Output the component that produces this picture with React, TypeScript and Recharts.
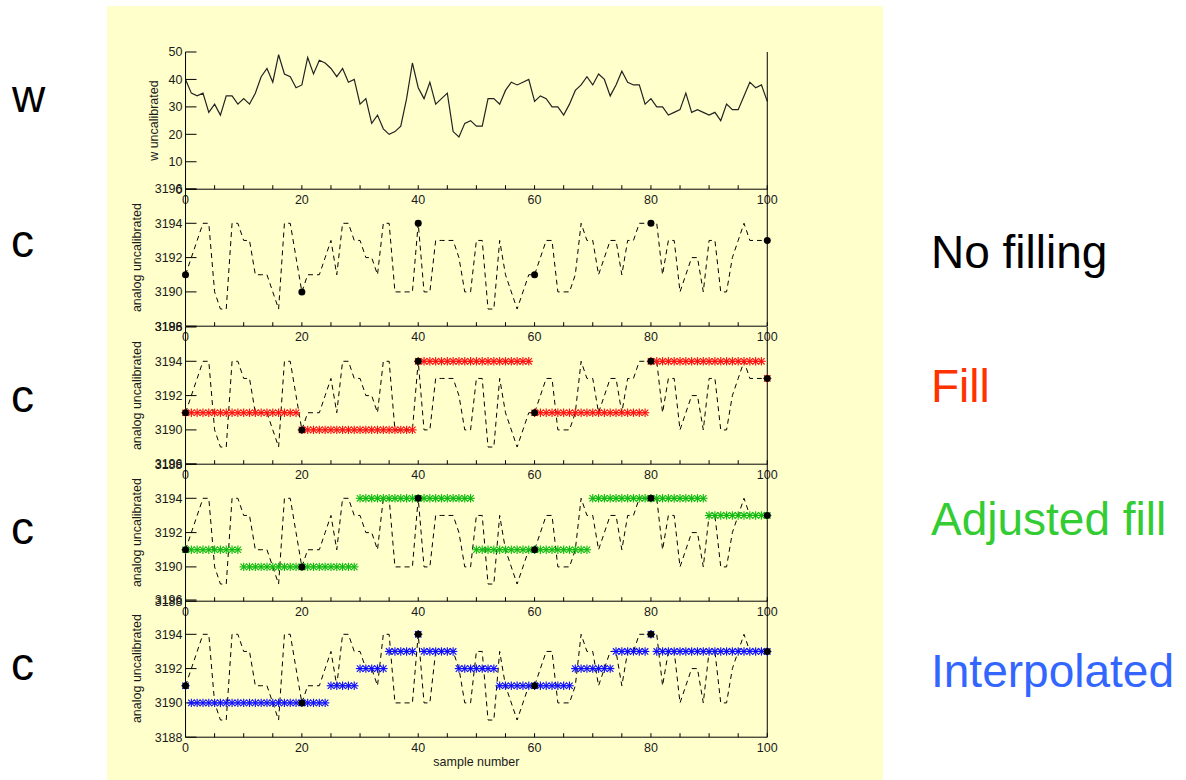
import React from 'react';
import { ComposedChart, Line, Scatter, XAxis, YAxis } from 'recharts';

// sample numbers along the x axis
const sampleNo = Array.from({ length: 101 }, (_, i) => i);

// w channel, raw counts
const wRaw = [
  40, 35, 34, 35, 28, 31, 27, 34, 34, 31,
  33, 31, 35, 41, 44, 39, 49, 42, 41, 37,
  38, 48, 42, 47, 46, 44, 41, 44, 39, 40,
  31, 33, 24, 27, 22, 20, 21, 23, 33, 46,
  37, 33, 39, 31, 33, 35, 21, 19, 24, 25,
  23, 23, 33, 33, 31, 36, 39, 38, 39, 40,
  32, 34, 33, 30, 30, 27, 31, 36, 38, 41,
  38, 42, 40, 34, 38, 43, 39, 38, 38, 31,
  33, 30, 30, 27, 28, 29, 35, 28, 29, 28,
  27, 28, 25, 31, 29, 29, 34, 39, 37, 38,
  32,
];

// c channel, analog counts
const cRaw = [
  3191, 3192, 3193, 3194, 3194, 3190, 3189, 3189, 3194, 3194,
  3193, 3193, 3191, 3191, 3191, 3190, 3189, 3194, 3194, 3192,
  3190, 3191, 3191, 3191, 3192, 3193, 3191, 3194, 3194, 3193,
  3193, 3192, 3192, 3191, 3194, 3194, 3190, 3190, 3190, 3190,
  3194, 3190, 3190, 3193, 3193, 3193, 3193, 3192, 3190, 3190,
  3193, 3193, 3189, 3189, 3193, 3191, 3190, 3189, 3190, 3191,
  3191, 3192, 3193, 3193, 3190, 3190, 3190, 3191, 3194, 3193,
  3193, 3191, 3192, 3193, 3193, 3191, 3193, 3193, 3194, 3194,
  3194, 3194, 3191, 3193, 3193, 3190, 3191, 3192, 3192, 3190,
  3193, 3193, 3190, 3190, 3192, 3193, 3194, 3193, 3193, 3193,
  3193,
];

// samples where c was actually read
const calIdx = [0, 20, 40, 60, 80, 100];
const calVal = [3191, 3190, 3194, 3191, 3194, 3193];

const fillVal = [
  3191, 3191, 3191, 3191, 3191, 3191, 3191, 3191, 3191, 3191,
  3191, 3191, 3191, 3191, 3191, 3191, 3191, 3191, 3191, 3191,
  3190, 3190, 3190, 3190, 3190, 3190, 3190, 3190, 3190, 3190,
  3190, 3190, 3190, 3190, 3190, 3190, 3190, 3190, 3190, 3190,
  3194, 3194, 3194, 3194, 3194, 3194, 3194, 3194, 3194, 3194,
  3194, 3194, 3194, 3194, 3194, 3194, 3194, 3194, 3194, 3194,
  3191, 3191, 3191, 3191, 3191, 3191, 3191, 3191, 3191, 3191,
  3191, 3191, 3191, 3191, 3191, 3191, 3191, 3191, 3191, 3191,
  3194, 3194, 3194, 3194, 3194, 3194, 3194, 3194, 3194, 3194,
  3194, 3194, 3194, 3194, 3194, 3194, 3194, 3194, 3194, 3194,
  3193,
];

const adjVal = [
  3191, 3191, 3191, 3191, 3191, 3191, 3191, 3191, 3191, 3191,
  3190, 3190, 3190, 3190, 3190, 3190, 3190, 3190, 3190, 3190,
  3190, 3190, 3190, 3190, 3190, 3190, 3190, 3190, 3190, 3190,
  3194, 3194, 3194, 3194, 3194, 3194, 3194, 3194, 3194, 3194,
  3194, 3194, 3194, 3194, 3194, 3194, 3194, 3194, 3194, 3194,
  3191, 3191, 3191, 3191, 3191, 3191, 3191, 3191, 3191, 3191,
  3191, 3191, 3191, 3191, 3191, 3191, 3191, 3191, 3191, 3191,
  3194, 3194, 3194, 3194, 3194, 3194, 3194, 3194, 3194, 3194,
  3194, 3194, 3194, 3194, 3194, 3194, 3194, 3194, 3194, 3194,
  3193, 3193, 3193, 3193, 3193, 3193, 3193, 3193, 3193, 3193,
  3193,
];

const interpVal = [
  3191, 3190, 3190, 3190, 3190, 3190, 3190, 3190, 3190, 3190,
  3190, 3190, 3190, 3190, 3190, 3190, 3190, 3190, 3190, 3190,
  3190, 3190, 3190, 3190, 3190, 3191, 3191, 3191, 3191, 3191,
  3192, 3192, 3192, 3192, 3192, 3193, 3193, 3193, 3193, 3193,
  3194, 3193, 3193, 3193, 3193, 3193, 3193, 3192, 3192, 3192,
  3192, 3192, 3192, 3192, 3191, 3191, 3191, 3191, 3191, 3191,
  3191, 3191, 3191, 3191, 3191, 3191, 3191, 3192, 3192, 3192,
  3192, 3192, 3192, 3192, 3193, 3193, 3193, 3193, 3193, 3193,
  3194, 3193, 3193, 3193, 3193, 3193, 3193, 3193, 3193, 3193,
  3193, 3193, 3193, 3193, 3193, 3193, 3193, 3193, 3193, 3193,
  3193,
];

const xTicks = [0, 5, 10, 15, 20, 25, 30, 35, 40, 45, 50, 55, 60, 65, 70, 75, 80, 85, 90, 95, 100];
const wTicks = [0, 10, 20, 30, 40, 50];
const cTicks = [3188, 3190, 3192, 3194, 3196];

const rows = sampleNo.map((n, i) => ({ n, w: wRaw[i], c: cRaw[i] }));
const calPts = calIdx.map((n, i) => ({ n, v: calVal[i] }));
const toPts = (vals: number[]) => sampleNo.map((n, i) => ({ n, v: vals[i] }));

const FONT = '"Liberation Sans", Arial, sans-serif';
const tickStyle = { fontSize: 12.5, fill: '#1a1a1a', fontFamily: FONT };
const black = { stroke: '#000', strokeWidth: 1 };

// IDL-style "*" plot symbol
const asterisk = (color: string) => (props: any) => {
  const { cx, cy } = props;
  if (cx == null || cy == null) return <g />;
  const s = 4.2;
  const d = 3.2;
  return (
    <g stroke={color} strokeWidth={1.15}>
      <line x1={cx - s} y1={cy} x2={cx + s} y2={cy} />
      <line x1={cx} y1={cy - s} x2={cx} y2={cy + s} />
      <line x1={cx - d} y1={cy - d} x2={cx + d} y2={cy + d} />
      <line x1={cx - d} y1={cy + d} x2={cx + d} y2={cy - d} />
    </g>
  );
};

const blackDot = (props: any) => {
  const { cx, cy } = props;
  if (cx == null || cy == null) return <g />;
  return <circle cx={cx} cy={cy} r={3.5} fill="#000" />;
};

const PLOT_H = 137.2;
const MT = 10;

interface PanelProps {
  top: number;
  yDomain: [number, number];
  yTicks: number[];
  yLabel: string;
  labelX: number;
  last?: boolean;
  children: React.ReactNode;
}

function Panel({ top, yDomain, yTicks, yLabel, labelX, last, children }: PanelProps) {
  const xh = last ? 34 : 24;
  return (
    <div style={{ position: 'absolute', left: 107, top: top - MT }}>
      <ComposedChart
        width={776}
        height={MT + PLOT_H + xh}
        data={rows}
        margin={{ top: MT, right: 105.7, bottom: 0, left: 0 }}
      >
        <XAxis
          xAxisId="top"
          orientation="top"
          type="number"
          dataKey="n"
          domain={[0, 100]}
          ticks={xTicks}
          interval={0}
          height={0}
          tick={false}
          tickSize={-4}
          axisLine={black}
          tickLine={black}
        />
        <XAxis
          type="number"
          dataKey="n"
          domain={[0, 100]}
          ticks={xTicks}
          interval={0}
          height={xh}
          tickSize={-4}
          tickMargin={10}
          tick={tickStyle}
          tickFormatter={(v: number) => (v % 20 === 0 ? String(v) : '')}
          axisLine={black}
          tickLine={black}
          label={
            last
              ? {
                  value: 'sample number',
                  position: 'insideBottom',
                  offset: 5,
                  style: { fontSize: 12.5, fill: '#1a1a1a', fontFamily: FONT },
                }
              : undefined
          }
        />
        <YAxis
          type="number"
          domain={yDomain}
          ticks={yTicks}
          interval={0}
          width={78.5}
          tickSize={-11}
          tickMargin={14}
          tick={tickStyle}
          axisLine={black}
          tickLine={black}
          label={{
            value: yLabel,
            angle: -90,
            position: 'insideLeft',
            offset: labelX,
            style: { textAnchor: 'middle', fontSize: 12.5, fill: '#1a1a1a', fontFamily: FONT },
          }}
        />
        <YAxis
          yAxisId="right"
          orientation="right"
          type="number"
          domain={yDomain}
          ticks={yTicks}
          interval={0}
          width={10}
          tick={false}
          tickSize={-11}
          axisLine={black}
          tickLine={black}
        />
        {children}
      </ComposedChart>
    </div>
  );
}

function cLayers(markerVals: number[] | null, color: string) {
  return [
    <Line
      key="c"
      type="linear"
      dataKey="c"
      stroke="#000"
      strokeWidth={1}
      strokeDasharray="5 4"
      dot={false}
      activeDot={false}
      isAnimationActive={false}
    />,
    markerVals ? (
      <Scatter
        key="m"
        data={toPts(markerVals)}
        dataKey="v"
        shape={asterisk(color)}
        isAnimationActive={false}
      />
    ) : null,
    <Scatter key="cal" data={calPts} dataKey="v" shape={blackDot} isAnimationActive={false} />,
  ];
}

const bigText = (color: string): React.CSSProperties => ({
  position: 'absolute',
  fontFamily: FONT,
  fontSize: 46,
  lineHeight: '46px',
  color,
  whiteSpace: 'nowrap',
});

export default function App() {
  const tops = [51.7, 189.3, 326.7, 463.5, 600];
  return (
    <div
      style={{
        position: 'absolute',
        left: 0,
        top: 0,
        width: 1186,
        height: 780,
        background: '#fff',
        overflow: 'hidden',
      }}
    >
      <div
        style={{ position: 'absolute', left: 107, top: 6, width: 776, height: 774, background: '#ffffcc' }}
      />

      <Panel top={tops[0]} yDomain={[0, 50]} yTicks={wTicks} yLabel="w uncalibrated" labelX={46.5}>
        <Line
          type="linear"
          dataKey="w"
          stroke="#222"
          strokeWidth={1.2}
          dot={false}
          activeDot={false}
          isAnimationActive={false}
        />
      </Panel>
      <Panel top={tops[1]} yDomain={[3188, 3196]} yTicks={cTicks} yLabel="analog uncalibrated" labelX={30}>
        {cLayers(null, '#000')}
      </Panel>
      <Panel top={tops[2]} yDomain={[3188, 3196]} yTicks={cTicks} yLabel="analog uncalibrated" labelX={30}>
        {cLayers(fillVal, '#ff1010')}
      </Panel>
      <Panel top={tops[3]} yDomain={[3188, 3196]} yTicks={cTicks} yLabel="analog uncalibrated" labelX={30}>
        {cLayers(adjVal, '#10bb10')}
      </Panel>
      <Panel top={tops[4]} yDomain={[3188, 3196]} yTicks={cTicks} yLabel="analog uncalibrated" labelX={30} last>
        {cLayers(interpVal, '#1010ff')}
      </Panel>

      <div style={{ ...bigText('#000'), left: 12, top: 73 }}>w</div>
      <div style={{ ...bigText('#000'), left: 11, top: 218 }}>c</div>
      <div style={{ ...bigText('#000'), left: 11, top: 373 }}>c</div>
      <div style={{ ...bigText('#000'), left: 11, top: 505 }}>c</div>
      <div style={{ ...bigText('#000'), left: 11, top: 641 }}>c</div>

      <div style={{ ...bigText('#000'), left: 931, top: 229 }}>No filling</div>
      <div style={{ ...bigText('#ff3300'), left: 931, top: 363 }}>Fill</div>
      <div style={{ ...bigText('#33cc33'), left: 931, top: 496 }}>Adjusted fill</div>
      <div style={{ ...bigText('#3366ff'), left: 931, top: 648 }}>Interpolated</div>
    </div>
  );
}
